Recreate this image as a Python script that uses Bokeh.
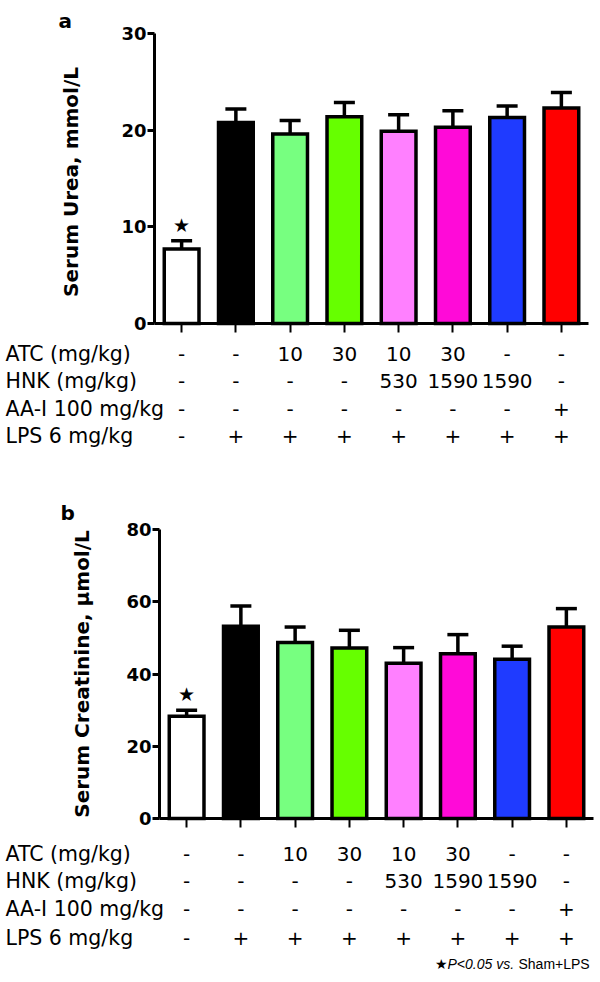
import math
from bokeh.plotting import figure
from bokeh.models import (ColumnDataSource, Range1d, Whisker, TeeHead, LinearAxis, FixedTicker)
from bokeh.layouts import column
from bokeh.embed import file_html
from bokeh.resources import INLINE
from bokeh.core.properties import value

# ---------------- data ----------------
groups = ["Sham", "LPS", "ATC10", "ATC30", "ATC10_HNK530", "ATC30_HNK1590", "HNK1590", "AAI"]
bar_colors = ["#FFFFFF", "#000000", "#77FF80", "#66FF00", "#FF80FF", "#FF0AD8", "#1F3BFF", "#FF0000"]

urea_mean = [7.7, 20.8, 19.6, 21.4, 19.9, 20.3, 21.3, 22.3]
urea_sem = [0.85, 1.4, 1.4, 1.45, 1.7, 1.7, 1.2, 1.6]
creat_mean = [28.3, 53.2, 48.7, 47.2, 43.0, 45.6, 44.1, 53.0]
creat_sem = [1.7, 5.6, 4.3, 4.9, 4.3, 5.3, 3.6, 5.1]
significance = ["★", "", "", "", "", "", "", ""]

row_names = ["ATC (mg/kg)", "HNK (mg/kg)", "AA-I 100 mg/kg", "LPS 6 mg/kg"]
atc_row = ["-", "-", "10", "30", "10", "30", "-", "-"]
hnk_row = ["-", "-", "-", "-", "530", "1590", "1590", "-"]
aai_row = ["-", "-", "-", "-", "-", "-", "-", "+"]
lps_row = ["-", "+", "+", "+", "+", "+", "+", "+"]

urea_ticks = [0, 10, 20, 30]
creat_ticks = [0, 20, 40, 60, 80]

footnote_parts = ["★", "P<0.05 vs.", "Sham+LPS"]
footnote_styles = ["normal", "italic", "normal"]

FONT = "DejaVu Sans"
W = 598


def make_panel(letter, means, sems, ymax, ticks, ylabel, fig_h, axis_x, axis_y0,
               frame_w, top_px, row_px, ylabel_x, letter_xy, footnote=None):
    """axis_x: x pixel of the y axis; axis_y0: y pixel of value 0; top_px: y pixel of ymax."""
    s = frame_w / len(groups)               # pixels per category
    upp = ymax / (axis_y0 - top_px)         # data units per pixel
    x0 = -axis_x / s
    x1 = (W - axis_x) / s
    y1 = ymax + top_px * upp
    y0 = -(fig_h - axis_y0) * upp

    p = figure(x_range=Range1d(x0, x1), y_range=Range1d(y0, y1), width=W, height=fig_h,
               output_backend="svg", toolbar_location=None,
               x_axis_location=None, y_axis_location=None,
               min_border_left=0, min_border_right=0, min_border_top=0, min_border_bottom=0)
    p.outline_line_color = None
    p.xgrid.visible = False
    p.ygrid.visible = False

    xpos = [i + 0.5 for i in range(len(groups))]
    src = ColumnDataSource(dict(x=xpos, g=groups, m=means,
                                up=[a + b for a, b in zip(means, sems)],
                                c=bar_colors, sig=significance,
                                atc=atc_row, hnk=hnk_row, aai=aai_row, lps=lps_row))

    p.vbar(x="x", top="m", bottom=0, width=0.64, source=src, fill_color="c",
           line_color="black", line_width=3.5, line_join="miter")

    p.add_layout(Whisker(source=src, base="x", upper="up", lower="m", dimension="height",
                         line_color="black", line_width=3.5,
                         upper_head=TeeHead(size=21, line_width=3.5, line_color="black"),
                         lower_head=None))

    p.text(x="x", y="up", text="sig", source=src, text_font=value(FONT),
           text_font_size="19px", text_align="center", text_baseline="middle",
           y_offset=-16, text_color="black")

    # y axis at x = 0
    ya = LinearAxis(fixed_location=0, bounds=(0, ymax), ticker=FixedTicker(ticks=ticks))
    ya.major_label_text_font = FONT
    ya.major_label_text_font_style = "bold"
    ya.major_label_text_font_size = "18px"
    ya.major_label_text_color = "black"
    ya.major_label_standoff = 1
    ya.axis_line_width = 3
    ya.axis_line_color = "black"
    ya.major_tick_line_width = 3
    ya.major_tick_line_color = "black"
    ya.major_tick_out = 7
    ya.major_tick_in = 0
    ya.minor_tick_line_color = None
    p.add_layout(ya, "left")

    # x axis at y = 0
    xa = LinearAxis(fixed_location=0, bounds=(0, len(groups)), ticker=FixedTicker(ticks=xpos))
    xa.axis_line_width = 3
    xa.axis_line_color = "black"
    xa.major_tick_line_width = 2
    xa.major_tick_line_color = "black"
    xa.major_tick_out = 9
    xa.major_tick_in = 0
    xa.minor_tick_line_color = None
    xa.major_label_text_color = None
    xa.major_label_text_font_size = "1px"
    p.add_layout(xa, "below")

    # y axis title (rotated)
    p.text(x=[(ylabel_x - axis_x) / s], y=[ymax / 2], text=[ylabel], angle=math.pi / 2,
           text_font=value(FONT), text_font_style="bold", text_font_size="20px",
           text_align="center", text_baseline="middle", text_color="black")

    # treatment table under the bars
    for field, rp in zip(["atc", "hnk", "aai", "lps"], row_px):
        p.text(x="x", y=-rp * upp, text=field, source=src,
               text_font=value(FONT), text_font_size="20px",
               text_align="center", text_baseline="middle", text_color="black")
    p.text(x=[x0 + 5 / s] * len(row_names), y=[-rp * upp for rp in row_px], text=row_names,
           text_font=value(FONT), text_font_size="20.5px", text_align="left",
           text_baseline="middle", text_color="black")

    # panel letter
    p.text(x=[(letter_xy[0] - axis_x) / s], y=[(axis_y0 - letter_xy[1]) * upp], text=[letter],
           text_font=value(FONT), text_font_style="bold", text_font_size="20px",
           text_align="left", text_baseline="alphabetic", text_color="black")

    if footnote is not None:
        fy_px, xs_px = footnote
        for txt, style, xp in zip(footnote_parts, footnote_styles, xs_px):
            p.text(x=[(xp - axis_x) / s], y=[-(fy_px - axis_y0) * upp], text=[txt],
                   text_font=value("Liberation Sans"), text_font_style=style,
                   text_font_size="14px", text_align="left",
                   text_baseline="middle", text_color="black")
    return p


# panel a: page y 0..470
pa = make_panel("a", urea_mean, urea_sem, 30, urea_ticks, "Serum Urea,  mmol/L",
                fig_h=470, axis_x=154, axis_y0=323, frame_w=434, top_px=33,
                row_px=[30, 57, 85, 112], ylabel_x=70, letter_xy=(58, 20))

# panel b: page y 470..980
pb = make_panel("b", creat_mean, creat_sem, 80, creat_ticks, "Serum Creatinine, μmol/L",
                fig_h=510, axis_x=159, axis_y0=348, frame_w=434, top_px=59,
                row_px=[35, 62, 90, 119], ylabel_x=81, letter_xy=(60, 42),
                footnote=(493, [434, 447, 518]))

layout = column(pa, pb, spacing=0)
open("out.html", "w").write(file_html(layout, INLINE))
